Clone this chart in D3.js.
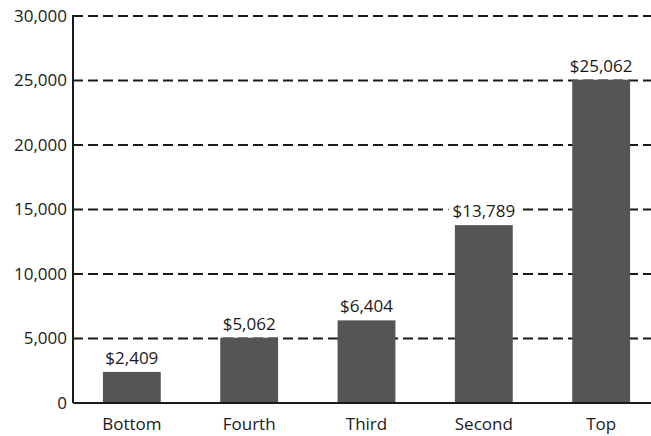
<!DOCTYPE html>
<html lang="en">
<head>
    <meta charset="UTF-8">
    <title>Groups</title>
    <script src="https://d3js.org/d3.v7.min.js"></script>
    <style>
        body { margin: 0; background: #fff; }
        text { font-family: "Open Sans", sans-serif; fill: #1a1a1a; }
    </style>
</head>
<body>
<div id="chart"></div>
<script>
// chart data
var groups = ["Bottom", "Fourth", "Third", "Second", "Top"];
var values = [2409, 5062, 6404, 13789, 25062];
var yTicks = [0, 5000, 10000, 15000, 20000, 25000, 30000];

var W = 651, H = 436;
var plotLeft = 73, plotTop = 16, plotBottom = 403;

var svg = d3.select("#chart").append("svg")
    .attr("width", W)
    .attr("height", H);

var y = d3.scaleLinear()
    .domain([0, 30000])
    .range([plotBottom, plotTop]);

var x = d3.scaleBand()
    .domain(groups)
    .range([plotLeft, 660])
    .paddingInner(0.507)
    .paddingOuter(0.255);

// dashed gridlines (behind the bars)
svg.append("g")
    .selectAll("line")
    .data(yTicks.filter(d => d > 0))
    .enter().append("line")
    .attr("x1", plotLeft)
    .attr("x2", W)
    .attr("y1", d => y(d))
    .attr("y2", d => y(d))
    .attr("stroke", "#1a1a1a")
    .attr("stroke-width", 2)
    .attr("stroke-dasharray", "10,5");

// y axis, labels only + the line
var yAxis = svg.append("g")
    .attr("transform", `translate(${plotLeft},0)`)
    .call(d3.axisLeft(y).tickValues(yTicks).tickFormat(d3.format(",")).tickSize(0).tickPadding(6));
yAxis.select(".domain").remove();
yAxis.selectAll("text")
    .style("font-family", "Open Sans, sans-serif")
    .style("font-size", "17px")
    .attr("fill", "#1a1a1a");

svg.append("line")
    .attr("x1", plotLeft).attr("x2", plotLeft)
    .attr("y1", plotTop - 1).attr("y2", plotBottom)
    .attr("stroke", "#1a1a1a")
    .attr("stroke-width", 2);

// bars
svg.selectAll(".bar")
    .data(values)
    .enter().append("rect")
    .attr("class", "bar")
    .attr("x", (d, i) => x(groups[i]))
    .attr("width", x.bandwidth())
    .attr("y", d => y(d))
    .attr("height", d => plotBottom - y(d))
    .attr("fill", "#555555");

// x axis baseline
svg.append("line")
    .attr("x1", plotLeft).attr("x2", W)
    .attr("y1", plotBottom).attr("y2", plotBottom)
    .attr("stroke", "#1a1a1a")
    .attr("stroke-width", 2);

// category labels
svg.selectAll(".cat")
    .data(groups)
    .enter().append("text")
    .attr("class", "cat")
    .attr("x", d => x(d) + x.bandwidth() / 2)
    .attr("y", 430)
    .attr("text-anchor", "middle")
    .style("font-size", "17px")
    .text(d => d);

// value labels with white box
var fmt = d3.format("$,");
var lab = svg.selectAll(".val")
    .data(values)
    .enter().append("g")
    .attr("class", "val")
    .attr("transform", (d, i) => `translate(${x(groups[i]) + x.bandwidth() / 2},${y(d) - 8})`);

lab.append("text")
    .attr("text-anchor", "middle")
    .style("font-size", "17px")
    .text(d => fmt(d));

lab.each(function () {
    var g = d3.select(this);
    var bb = g.select("text").node().getBBox();
    g.insert("rect", "text")
        .attr("x", bb.x - 4)
        .attr("y", bb.y)
        .attr("width", bb.width + 8)
        .attr("height", bb.height)
        .attr("fill", "#fff");
});
</script>
</body>
</html>
